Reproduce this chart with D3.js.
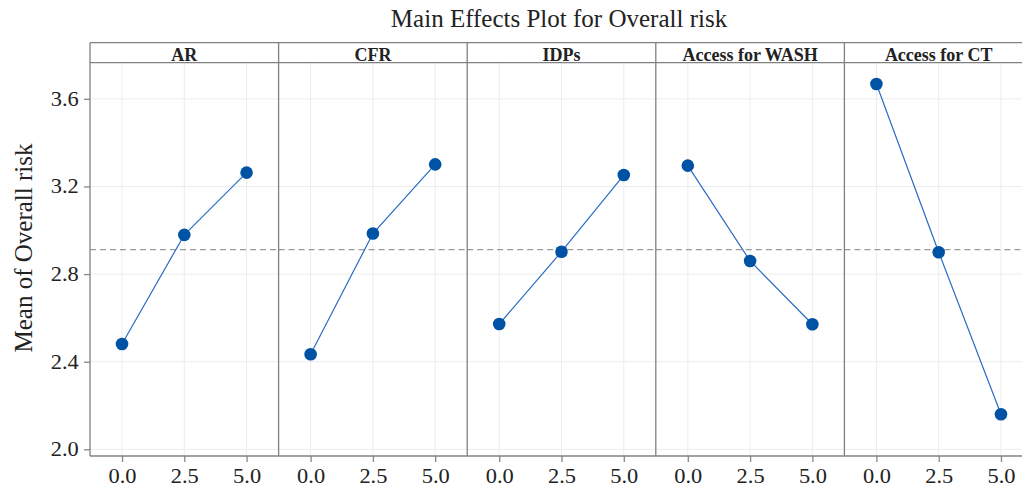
<!DOCTYPE html>
<html><head><meta charset="utf-8">
<script src="https://cdn.jsdelivr.net/npm/d3@7"></script>
<style>body{margin:0;background:#fff}svg{display:block}</style>
</head><body><svg id="c" width="1022" height="490"></svg>
<script>
const factors = ["AR", "CFR", "IDPs", "Access for WASH", "Access for CT"];
const levels = [0, 2.5, 5];
const meansAR = [2.481, 2.979, 3.263];
const meansCFR = [2.434, 2.985, 3.301];
const meansIDPs = [2.572, 2.902, 3.252];
const meansWASH = [3.295, 2.860, 2.571];
const meansCT = [3.668, 2.900, 2.160];
const grandMean = 2.912;
const yTicks = [2.0, 2.4, 2.8, 3.2, 3.6];
const xTicks = [0, 2.5, 5];
const title = "Main Effects Plot for Overall risk";
const yTitle = "Mean of Overall risk";

const series = [meansAR, meansCFR, meansIDPs, meansWASH, meansCT];
const svg = d3.select("#c");
const W = 1022;
const left = 90, pw = 188.6, headTop = 42.7, headBot = 62.7, bottom = 456;
const font = '"Liberation Serif", "Times New Roman", serif';
const sx = 1.12, tickFs = 20;
const y = d3.scaleLinear().domain([1.9695, 3.765]).range([bottom, headBot]);

svg.append("text").attr("x", 559).attr("y", 27).attr("text-anchor", "middle")
  .style("font-family", font).style("font-size", "25px").attr("fill", "#222").text(title);

svg.append("text").attr("transform", "translate(31.5,248) rotate(-90)")
  .attr("text-anchor", "middle").style("font-family", font).style("font-size", "25px")
  .attr("fill", "#222").text(yTitle);

factors.forEach((f, i) => {
  const x0 = left + i * pw, x1 = x0 + pw;
  const x = d3.scaleLinear().domain([-1.285, 6.285]).range([x0, x1]);
  const g = svg.append("g");
  g.selectAll(".gy").data(yTicks).join("line")
    .attr("x1", x0).attr("x2", x1).attr("y1", d => y(d)).attr("y2", d => y(d))
    .attr("stroke", "#ececec").attr("stroke-width", 1);
  g.selectAll(".gx").data(xTicks).join("line")
    .attr("x1", d => x(d)).attr("x2", d => x(d)).attr("y1", headBot).attr("y2", bottom)
    .attr("stroke", "#ececec").attr("stroke-width", 1);
  g.append("line").attr("x1", x0).attr("x2", x1).attr("y1", y(grandMean)).attr("y2", y(grandMean))
    .attr("stroke", "#9a9a9a").attr("stroke-width", 1.3).attr("stroke-dasharray", "6,4");
  const data = levels.map((l, k) => [l, series[i][k]]);
  g.append("path").datum(data)
    .attr("d", d3.line().x(d => x(d[0])).y(d => y(d[1])))
    .attr("fill", "none").attr("stroke", "#2a6cc4").attr("stroke-width", 1.2);
  g.selectAll("circle").data(data).join("circle")
    .attr("cx", d => x(d[0])).attr("cy", d => y(d[1])).attr("r", 6.3)
    .attr("fill", "#0052a5");
  const ax = d3.axisBottom(x).tickValues(xTicks).tickFormat(d3.format(".1f")).tickSize(6).tickSizeOuter(0);
  const axg = svg.append("g").attr("transform", `translate(0,${bottom})`).call(ax);
  axg.select(".domain").remove();
  axg.selectAll("line").attr("stroke", "#888").attr("stroke-width", 1.3);
  axg.selectAll("text").style("font-family", font).style("font-size", tickFs + "px").attr("fill", "#222")
    .attr("y", 13).attr("dy", "0.71em").attr("transform", `scale(${sx},1)`);
  svg.append("text").attr("x", (x0 + x1) / 2).attr("y", 60.5).attr("text-anchor", "middle")
    .style("font-family", font).style("font-weight", "bold").style("font-size", "18px").attr("fill", "#222").text(f);
  svg.append("line").attr("x1", x0).attr("x2", x0).attr("y1", headTop).attr("y2", bottom)
    .attr("stroke", "#808080").attr("stroke-width", 1.3);
});

const ay = d3.axisLeft(y).tickValues(yTicks).tickFormat(d3.format(".1f")).tickSize(6).tickSizeOuter(0);
const ayg = svg.append("g").attr("transform", `translate(${left},0)`).call(ay);
ayg.select(".domain").remove();
ayg.selectAll("line").attr("stroke", "#888").attr("stroke-width", 1.3);
ayg.selectAll("text").style("font-family", font).style("font-size", tickFs + "px").attr("fill", "#222")
  .attr("x", -11.3 / sx).attr("transform", `scale(${sx},1)`);

[headTop, headBot, bottom].forEach(yy => {
  svg.append("line").attr("x1", left).attr("x2", W).attr("y1", yy).attr("y2", yy)
    .attr("stroke", "#808080").attr("stroke-width", 1.3);
});
</script></body></html>
